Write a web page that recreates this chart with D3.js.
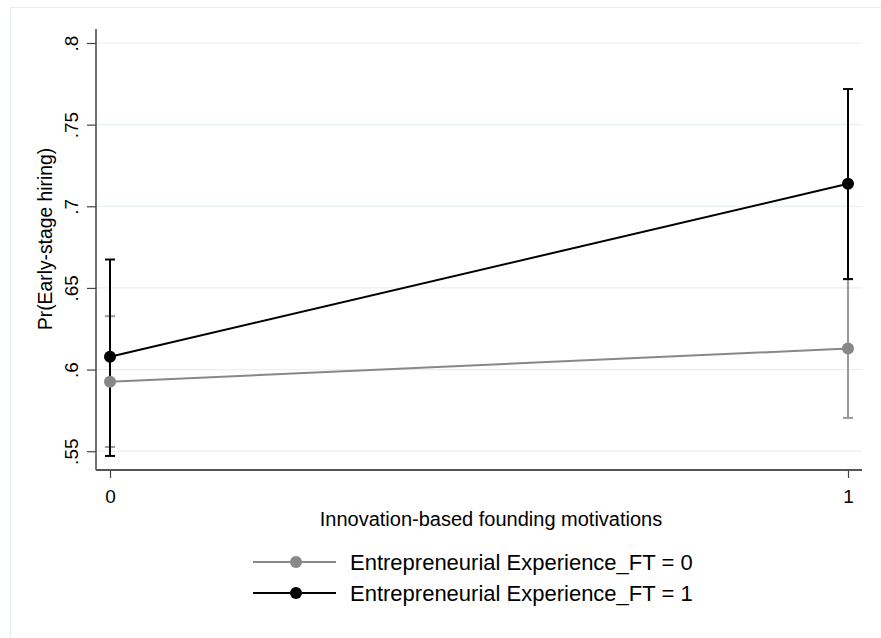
<!DOCTYPE html>
<html>
<head>
<meta charset="utf-8">
<script src="https://cdn.jsdelivr.net/npm/d3@7"></script>
<style>
  html, body { margin: 0; padding: 0; background: #fff; }
  svg { display: block; font-family: "Liberation Sans", Arial, sans-serif; }
</style>
</head>
<body>
<svg id="chart" width="881" height="638"></svg>
<script>
// Predicted probabilities with 95% confidence intervals
const xCategories = [0, 1];
const seriesNames = ["Entrepreneurial Experience_FT = 0", "Entrepreneurial Experience_FT = 1"];
const estimateFT0 = [0.5925, 0.6129];
const lowerFT0 = [0.5526, 0.5704];
const upperFT0 = [0.6327, 0.6554];
const estimateFT1 = [0.6078, 0.7138];
const lowerFT1 = [0.5471, 0.6554];
const upperFT1 = [0.6674, 0.7718];
const yTicks = [0.55, 0.6, 0.65, 0.7, 0.75, 0.8];
const yTickLabels = [".55", ".6", ".65", ".7", ".75", ".8"];
const xTickLabels = ["0", "1"];

const series = [
  { name: seriesNames[0], est: estimateFT0, lo: lowerFT0, hi: upperFT0, line: "#888888", ci: "#999999", dot: "#888888" },
  { name: seriesNames[1], est: estimateFT1, lo: lowerFT1, hi: upperFT1, line: "#000000", ci: "#000000", dot: "#000000" }
];

const svg = d3.select("#chart");

// outer frame
svg.append("rect").attr("x", 10.5).attr("y", 7.5).attr("width", 900).attr("height", 700)
  .attr("fill", "none").attr("stroke", "#e6eeee").attr("stroke-width", 1);

const plot = { left: 96, right: 862, top: 29, bottom: 470 };

const x = d3.scaleLinear().domain([0, 1]).range([110, 848]);
const y = d3.scaleLinear().domain([0.55, 0.8]).range([451.2, 43]);

// gridlines
svg.append("g").selectAll("line").data(yTicks).join("line")
  .attr("x1", plot.left).attr("x2", plot.right)
  .attr("y1", d => y(d)).attr("y2", d => y(d))
  .attr("stroke", "#e8f0f2").attr("stroke-width", 1.2);

// y axis
const yAxis = d3.axisLeft(y).tickValues(yTicks).tickFormat((d, i) => yTickLabels[i]).tickSize(9).tickSizeOuter(0);
const gy = svg.append("g").attr("transform", `translate(${plot.left},0)`).call(yAxis);
gy.attr("font-family", null).attr("font-size", null);
gy.select(".domain").remove();
gy.selectAll(".tick line").attr("stroke", "#444").attr("stroke-width", 1.2);
gy.selectAll(".tick text")
  .attr("font-size", 19).attr("fill", "#000")
  .attr("transform", "rotate(-90)")
  .attr("x", 0).attr("y", -18).attr("dy", 0)
  .attr("text-anchor", "middle");
svg.append("line").attr("x1", plot.left).attr("x2", plot.left).attr("y1", plot.top).attr("y2", plot.bottom)
  .attr("stroke", "#444").attr("stroke-width", 1.5);

// x axis
const xAxis = d3.axisBottom(x).tickValues(xCategories).tickFormat((d, i) => xTickLabels[i]).tickSize(8).tickSizeOuter(0);
const gx = svg.append("g").attr("transform", `translate(0,${plot.bottom})`).call(xAxis);
gx.attr("font-family", null).attr("font-size", null);
gx.select(".domain").remove();
gx.selectAll(".tick line").attr("stroke", "#444").attr("stroke-width", 1.2);
gx.selectAll(".tick text").attr("font-size", 19).attr("fill", "#000").attr("y", 33).attr("dy", 0);
svg.append("line").attr("x1", plot.left).attr("x2", plot.right).attr("y1", plot.bottom).attr("y2", plot.bottom)
  .attr("stroke", "#555").attr("stroke-width", 2);

// axis titles
svg.append("text").attr("x", 491).attr("y", 526).attr("text-anchor", "middle")
  .attr("font-size", 20).attr("fill", "#000").text("Innovation-based founding motivations");
svg.append("text").attr("transform", `translate(52,239) rotate(-90)`)
  .attr("text-anchor", "middle").attr("font-size", 19.3).attr("fill", "#000").text("Pr(Early-stage hiring)");

// confidence intervals
const cap = 5;
series.forEach(s => {
  const g = svg.append("g");
  xCategories.forEach((c, i) => {
    g.append("line").attr("x1", x(c)).attr("x2", x(c)).attr("y1", y(s.lo[i])).attr("y2", y(s.hi[i]))
      .attr("stroke", s.ci).attr("stroke-width", 2);
    [s.lo[i], s.hi[i]].forEach(v => {
      g.append("line").attr("x1", x(c) - cap).attr("x2", x(c) + cap).attr("y1", y(v)).attr("y2", y(v))
        .attr("stroke", s.ci).attr("stroke-width", 2);
    });
  });
});

// estimate lines and markers
const line = d3.line().x((d, i) => x(xCategories[i])).y(d => y(d));
series.forEach(s => {
  svg.append("path").datum(s.est).attr("d", line).attr("fill", "none")
    .attr("stroke", s.line).attr("stroke-width", 2);
  svg.append("g").selectAll("circle").data(s.est).join("circle")
    .attr("cx", (d, i) => x(xCategories[i])).attr("cy", d => y(d)).attr("r", 6)
    .attr("fill", s.dot);
});

// legend
const legend = svg.append("g");
series.forEach((s, i) => {
  const ly = 562 + i * 31;
  legend.append("line").attr("x1", 253).attr("x2", 336).attr("y1", ly).attr("y2", ly)
    .attr("stroke", s.line).attr("stroke-width", 2);
  legend.append("circle").attr("cx", 296).attr("cy", ly).attr("r", 6).attr("fill", s.dot);
  legend.append("text").attr("x", 350).attr("y", ly + 7.5).attr("font-size", 22).attr("fill", "#000").text(s.name);
});
</script>
</body>
</html>
